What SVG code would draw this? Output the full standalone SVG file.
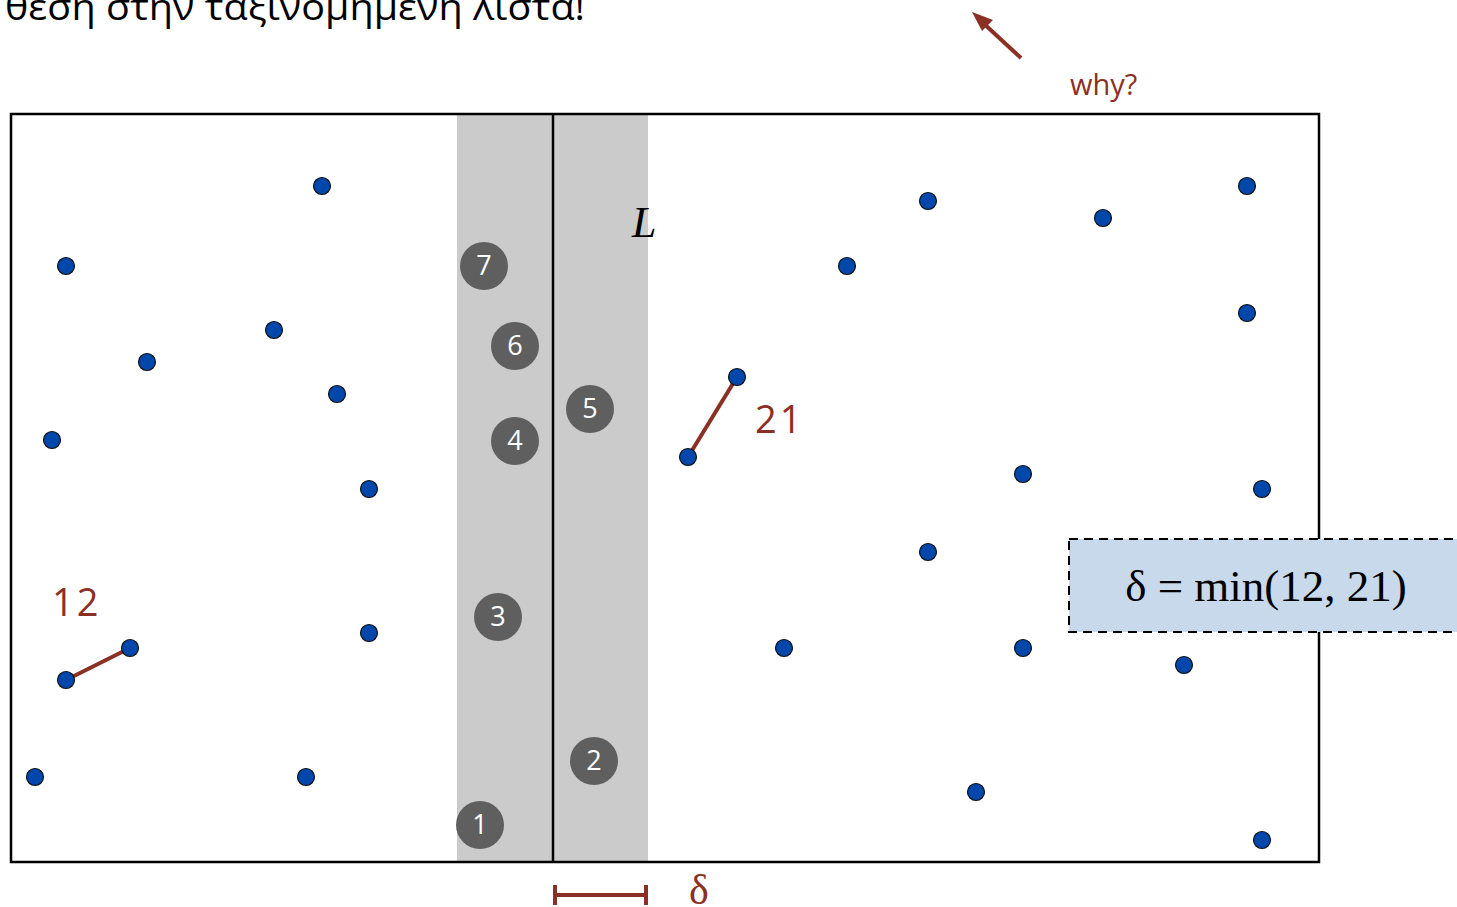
<svg xmlns="http://www.w3.org/2000/svg" width="1457" height="907" viewBox="0 0 1457 907">
<style>
.dot{fill:#0047AB;stroke:#111;stroke-width:1.2}
.num circle{fill:#5f5f5f}
.num text{fill:#fff;font-family:"Open Sans","DejaVu Sans",sans-serif;font-size:27px;text-anchor:middle}
.red{stroke:#8B3025;stroke-width:4;fill:none}
.lbl{fill:#8B3025;font-family:"Open Sans","DejaVu Sans",sans-serif}
.serif{font-family:"Liberation Serif","Times New Roman",serif}
</style>
<rect width="1457" height="907" fill="#fff"/>
<text x="5" y="20" font-family="Open Sans, DejaVu Sans, sans-serif" font-size="37" textLength="580" lengthAdjust="spacingAndGlyphs" fill="#000">θεση στην ταξινομημενη λιστα!</text>
<g id="frame">
<rect x="457" y="114" width="191" height="748" fill="#cbcbcb"/>
<rect x="11" y="114" width="1308" height="748" fill="none" stroke="#000" stroke-width="2.5"/>
<line x1="553" y1="114" x2="553" y2="862" stroke="#000" stroke-width="2.5"/>
<text x="632" y="237" class="serif" font-style="italic" font-size="44" fill="#000">L</text>
</g>
<g id="connectors">
<line class="red" x1="66" y1="680" x2="130" y2="648"/>
<line class="red" x1="688" y1="457" x2="737" y2="377"/>
<line class="red" x1="1021" y1="58" x2="982" y2="22"/>
<polygon points="972,12 993,20 982,31" fill="#8B3025"/>
<line class="red" x1="553" y1="895" x2="648" y2="895"/>
<line class="red" x1="555" y1="885" x2="555" y2="905"/>
<line class="red" x1="646" y1="885" x2="646" y2="905"/>
</g>
<g id="points">
<circle class="dot" cx="322" cy="186" r="8.5"/>
<circle class="dot" cx="66" cy="266" r="8.5"/>
<circle class="dot" cx="274" cy="330" r="8.5"/>
<circle class="dot" cx="147" cy="362" r="8.5"/>
<circle class="dot" cx="337" cy="394" r="8.5"/>
<circle class="dot" cx="52" cy="440" r="8.5"/>
<circle class="dot" cx="369" cy="489" r="8.5"/>
<circle class="dot" cx="130" cy="648" r="8.5"/>
<circle class="dot" cx="66" cy="680" r="8.5"/>
<circle class="dot" cx="369" cy="633" r="8.5"/>
<circle class="dot" cx="35" cy="777" r="8.5"/>
<circle class="dot" cx="306" cy="777" r="8.5"/>
<circle class="dot" cx="928" cy="201" r="8.5"/>
<circle class="dot" cx="1103" cy="218" r="8.5"/>
<circle class="dot" cx="1247" cy="186" r="8.5"/>
<circle class="dot" cx="847" cy="266" r="8.5"/>
<circle class="dot" cx="1247" cy="313" r="8.5"/>
<circle class="dot" cx="737" cy="377" r="8.5"/>
<circle class="dot" cx="688" cy="457" r="8.5"/>
<circle class="dot" cx="1023" cy="474" r="8.5"/>
<circle class="dot" cx="1262" cy="489" r="8.5"/>
<circle class="dot" cx="928" cy="552" r="8.5"/>
<circle class="dot" cx="784" cy="648" r="8.5"/>
<circle class="dot" cx="1023" cy="648" r="8.5"/>
<circle class="dot" cx="1184" cy="665" r="8.5"/>
<circle class="dot" cx="976" cy="792" r="8.5"/>
<circle class="dot" cx="1262" cy="840" r="8.5"/>
</g>
<g id="n7" class="num"><circle cx="484" cy="266" r="24"/><text x="484" y="275">7</text></g>
<g id="n6" class="num"><circle cx="515" cy="346" r="24"/><text x="515" y="355">6</text></g>
<g id="n5" class="num"><circle cx="590" cy="409" r="24"/><text x="590" y="418">5</text></g>
<g id="n4" class="num"><circle cx="515" cy="441" r="24"/><text x="515" y="450">4</text></g>
<g id="n3" class="num"><circle cx="498" cy="617" r="24"/><text x="498" y="626">3</text></g>
<g id="n2" class="num"><circle cx="594" cy="761" r="24"/><text x="594" y="770">2</text></g>
<g id="n1" class="num"><circle cx="480" cy="825" r="24"/><text x="480" y="834">1</text></g>
<g id="labels">
<text class="lbl" x="52" y="616" font-size="38" letter-spacing="3">12</text>
<text class="lbl" x="755" y="433" font-size="38" letter-spacing="3">21</text>
<text class="lbl" x="1070" y="95" font-size="29">why?</text>
<text class="serif" x="689" y="904" font-size="42" fill="#8B3025">δ</text>
</g>
<g id="deltabox">
<rect x="1069" y="539" width="400" height="93" fill="#C9D9EC" stroke="#000" stroke-width="2" stroke-dasharray="9,6"/>
<text class="serif" x="1266" y="601" font-size="45" text-anchor="middle" fill="#000">δ = min(12, 21)</text>
</g>
</svg>
